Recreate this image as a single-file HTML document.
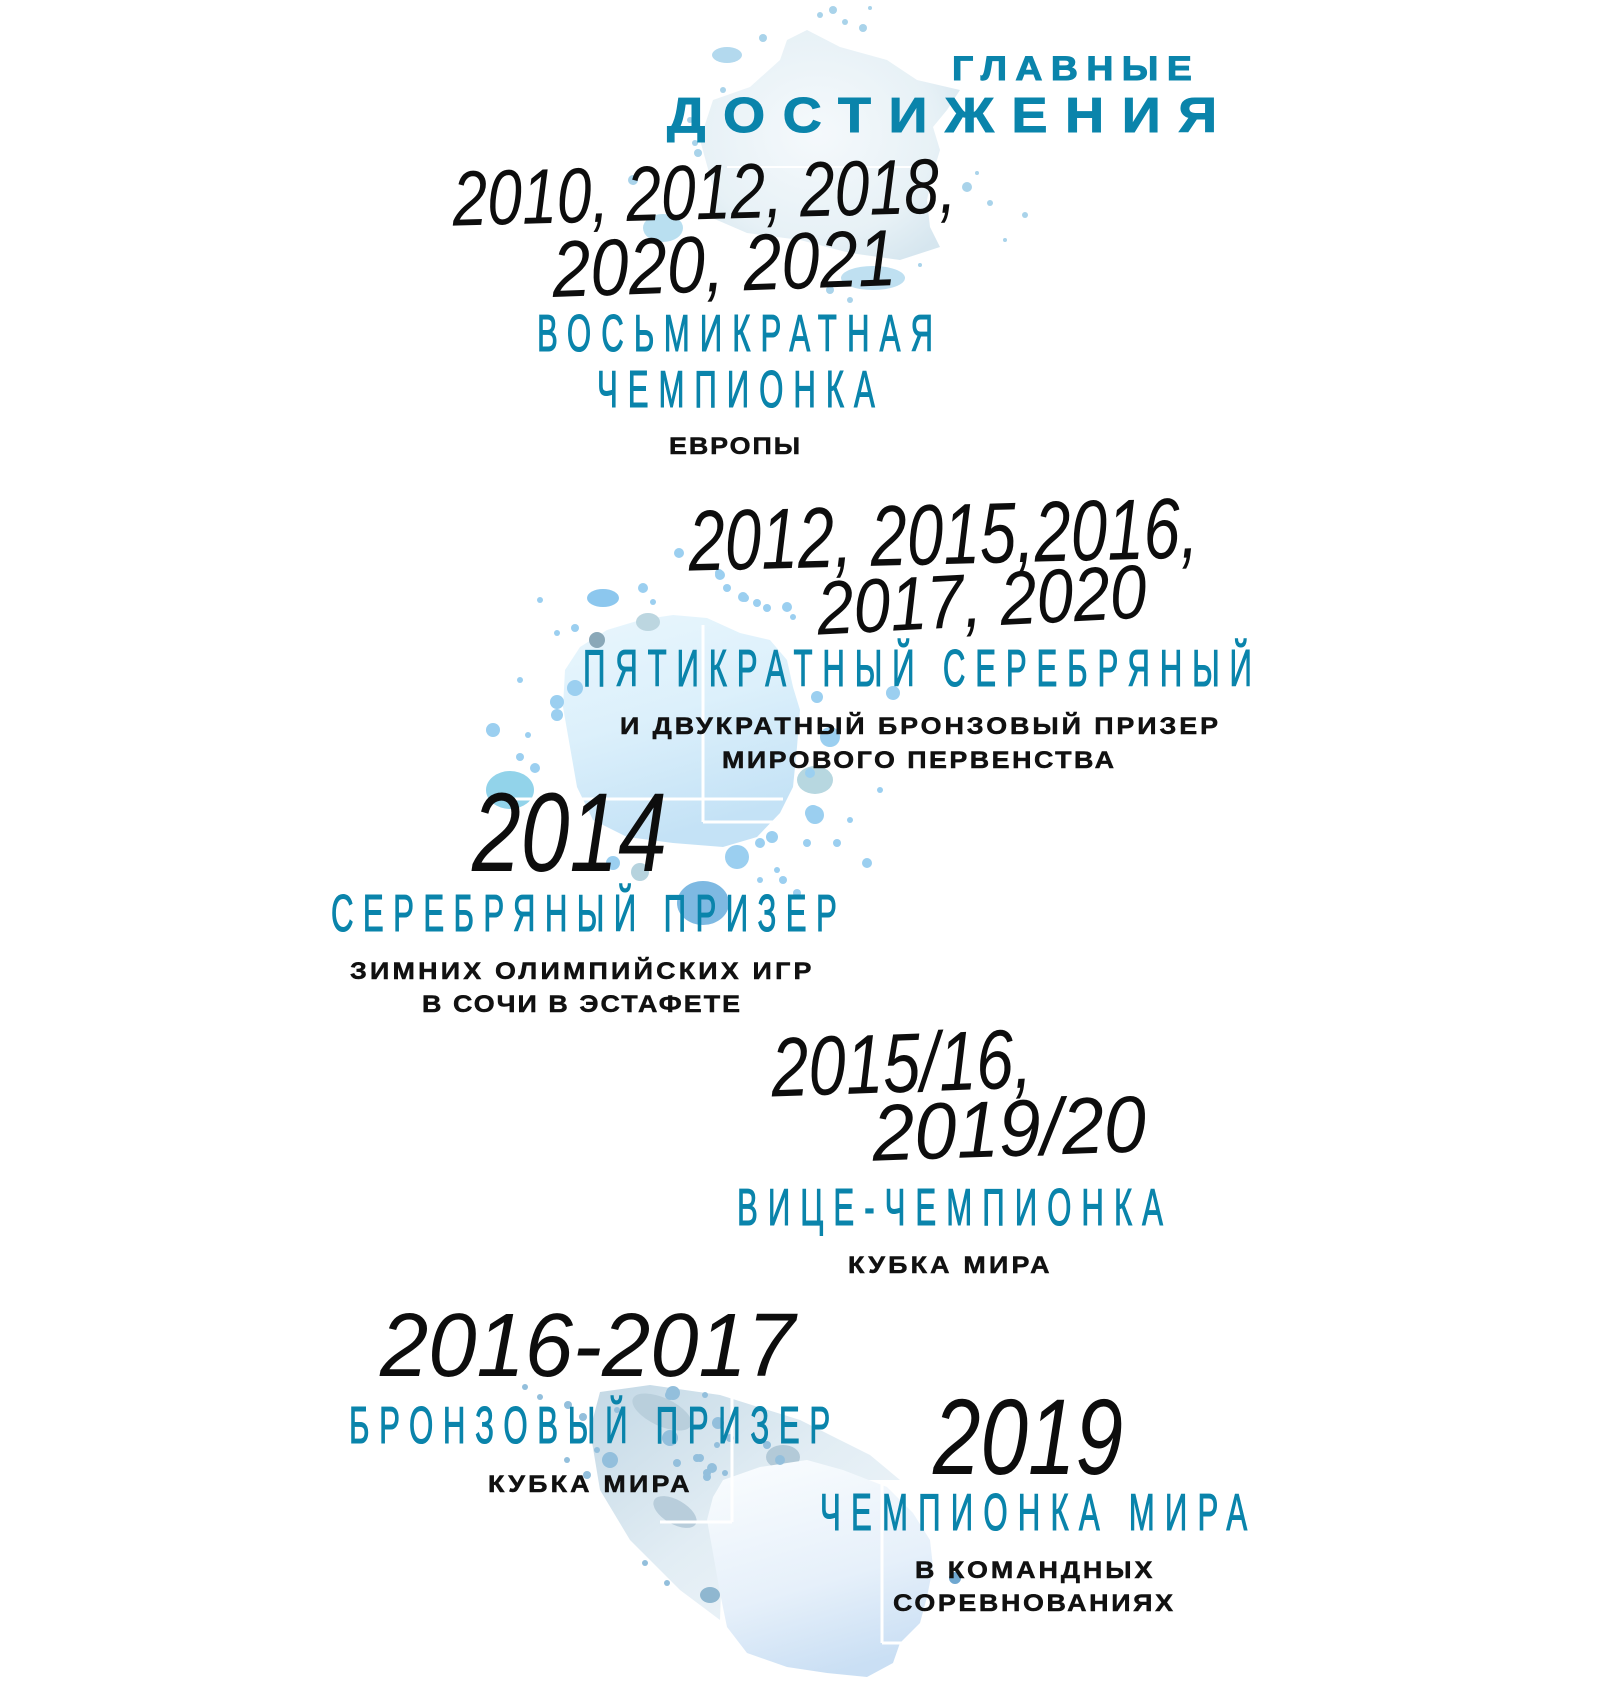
<!DOCTYPE html>
<html><head><meta charset="utf-8"><style>
html,body{margin:0;padding:0;background:#fff;}
body{width:1600px;height:1700px;overflow:hidden;}
svg{display:block;}
.ttl{font-family:"Liberation Sans","DejaVu Sans",sans-serif;font-weight:bold;fill:#0a84ab;stroke:#0a84ab;stroke-width:1;}
.hd{font-family:"Liberation Sans","DejaVu Sans",sans-serif;font-weight:normal;fill:#0a84ab;stroke:#0a84ab;stroke-width:1.1;}
.sb{font-family:"Liberation Sans","DejaVu Sans",sans-serif;font-weight:bold;fill:#111;stroke:#111;stroke-width:0.5;}
.hw{font-family:"Liberation Sans","DejaVu Sans",sans-serif;font-style:italic;font-weight:normal;fill:#0d0d0d;}
</style></head><body>
<svg width="1600" height="1700" viewBox="0 0 1600 1700" xmlns="http://www.w3.org/2000/svg">
<defs>
<radialGradient id="gTop" cx="0.45" cy="0.45" r="0.65">
<stop offset="0" stop-color="#f5f9fc"/><stop offset="0.7" stop-color="#e7f1f6"/><stop offset="1" stop-color="#d6e6ef"/>
</radialGradient>
<linearGradient id="gMid" x1="0" y1="0" x2="0.3" y2="1">
<stop offset="0" stop-color="#e9f6fd"/><stop offset="0.5" stop-color="#dcf0fb"/><stop offset="1" stop-color="#c4e2f6"/>
</linearGradient>
<linearGradient id="gBot" x1="0.2" y1="0" x2="0.5" y2="1">
<stop offset="0" stop-color="#f9fcfe"/><stop offset="0.6" stop-color="#e6f0fa"/><stop offset="1" stop-color="#cadff4"/>
</linearGradient>
<linearGradient id="gStreak" x1="0" y1="0" x2="1" y2="1">
<stop offset="0" stop-color="#c3d8e5"/><stop offset="0.5" stop-color="#e2edf4"/><stop offset="1" stop-color="#f2f7fb"/>
</linearGradient>
</defs>

<!-- TOP SPLASH -->
<g>
<polygon fill="url(#gTop)" points="787,40 807,30 840,47 887,60 917,80 960,90 947,110 933,127 940,150 933,173 927,200 930,227 940,247 900,260 850,253 800,240 747,233 710,217 713,187 700,140 713,100 750,87 780,60"/>
<ellipse cx="727" cy="55" rx="15" ry="8" fill="#b3d9ee"/>
<ellipse cx="663" cy="228" rx="20" ry="14" fill="#b9dff0"/>
<ellipse cx="873" cy="278" rx="32" ry="12" fill="#bfe0f1"/>
<g fill="#a9d3ea">
<circle cx="820" cy="15" r="3"/><circle cx="833" cy="10" r="4"/><circle cx="845" cy="22" r="3"/><circle cx="863" cy="28" r="4"/>
<circle cx="763" cy="38" r="4"/><circle cx="967" cy="187" r="5"/><circle cx="990" cy="203" r="3"/><circle cx="1025" cy="215" r="3"/>
<circle cx="977" cy="173" r="2"/><circle cx="633" cy="180" r="5"/><circle cx="698" cy="153" r="4"/><circle cx="695" cy="143" r="3"/>
<circle cx="723" cy="90" r="3"/><circle cx="690" cy="120" r="3"/><circle cx="830" cy="290" r="4"/><circle cx="850" cy="300" r="3"/>
<circle cx="920" cy="265" r="2"/><circle cx="1005" cy="240" r="2"/><circle cx="870" cy="8" r="2"/>
</g>
<line x1="727" y1="167" x2="920" y2="167" stroke="#fff" stroke-width="2"/>
</g>

<!-- MIDDLE SPLASH -->
<g>
<polygon fill="url(#gMid)" points="640,620 673,615 707,618 740,633 770,640 787,660 793,687 800,710 797,747 793,787 780,813 757,837 723,847 673,843 627,837 593,820 577,787 570,747 563,707 565,670 580,647 607,630"/>
<ellipse cx="603" cy="598" rx="16" ry="9" fill="#8cc7ee"/>
<ellipse cx="510" cy="790" rx="24" ry="19" fill="#92d3ea"/>
<ellipse cx="703" cy="903" rx="26" ry="22" fill="#7eb9e2"/>
<ellipse cx="648" cy="622" rx="12" ry="9" fill="#bcd6e0"/>
<ellipse cx="815" cy="780" rx="18" ry="14" fill="#b7d7e0"/>
<circle cx="597" cy="640" r="8" fill="#8aa8b8"/>
<g fill="#9bcff0">
<circle cx="643" cy="588" r="5"/><circle cx="653" cy="602" r="3"/><circle cx="720" cy="575" r="5"/><circle cx="727" cy="588" r="4"/>
<circle cx="743" cy="597" r="5"/><circle cx="757" cy="603" r="4"/><circle cx="767" cy="608" r="4"/><circle cx="787" cy="607" r="5"/>
<circle cx="793" cy="617" r="3"/><circle cx="575" cy="628" r="4"/><circle cx="557" cy="633" r="3"/><circle cx="575" cy="688" r="8"/>
<circle cx="557" cy="702" r="7"/><circle cx="557" cy="715" r="6"/><circle cx="493" cy="730" r="7"/><circle cx="528" cy="735" r="3"/>
<circle cx="520" cy="757" r="4"/><circle cx="535" cy="768" r="5"/><circle cx="817" cy="697" r="6"/><circle cx="893" cy="693" r="7"/>
<circle cx="813" cy="813" r="8"/><circle cx="837" cy="843" r="4"/><circle cx="807" cy="843" r="4"/><circle cx="867" cy="863" r="5"/>
<circle cx="830" cy="737" r="10"/><circle cx="810" cy="773" r="5"/><circle cx="760" cy="843" r="5"/><circle cx="737" cy="857" r="12"/>
<circle cx="613" cy="863" r="7"/><circle cx="783" cy="880" r="4"/><circle cx="777" cy="870" r="3"/><circle cx="797" cy="893" r="4"/>
<circle cx="772" cy="837" r="6"/><circle cx="815" cy="815" r="9"/><circle cx="679" cy="553" r="5"/><circle cx="719" cy="573" r="4"/>
<circle cx="745" cy="598" r="4"/><circle cx="540" cy="600" r="3"/><circle cx="520" cy="680" r="3"/><circle cx="760" cy="880" r="3"/>
<circle cx="850" cy="820" r="3"/><circle cx="880" cy="790" r="3"/><circle cx="640" cy="872" r="9" fill="#b6d3de"/>
</g>
<g stroke="#fff" stroke-width="3" fill="none">
<line x1="703" y1="625" x2="703" y2="822"/>
<line x1="490" y1="799" x2="783" y2="799"/>
<line x1="703" y1="822" x2="782" y2="822"/>
</g>
</g>

<!-- BOTTOM SPLASH -->
<g>
<polygon fill="url(#gStreak)" points="600,1392 650,1385 720,1395 800,1420 870,1455 900,1480 800,1480 740,1500 722,1560 720,1620 680,1590 630,1540 600,1490 590,1430"/>
<ellipse cx="662" cy="1412" rx="32" ry="14" transform="rotate(25 662 1412)" fill="#b9cfdc"/>
<ellipse cx="675" cy="1512" rx="24" ry="12" transform="rotate(30 675 1512)" fill="#b8cddb"/>
<ellipse cx="783" cy="1457" rx="17" ry="12" fill="#b3cad8"/>
<polygon fill="url(#gBot)" points="723,1480 760,1467 807,1460 843,1470 887,1487 913,1513 930,1540 933,1567 927,1597 920,1623 900,1643 893,1663 867,1677 827,1673 787,1667 747,1653 727,1627 720,1593 713,1553 707,1520 713,1497"/>
<g fill="#93bfdc">
<circle cx="670" cy="1395" r="5"/><circle cx="705" cy="1395" r="3"/><circle cx="613" cy="1462" r="4"/><circle cx="677" cy="1463" r="4"/>
<circle cx="700" cy="1458" r="4"/><circle cx="712" cy="1468" r="5"/><circle cx="707" cy="1477" r="4"/><circle cx="725" cy="1473" r="3"/>
<circle cx="717" cy="1423" r="4"/><circle cx="767" cy="1445" r="4"/><circle cx="780" cy="1460" r="5"/><circle cx="717" cy="1445" r="3"/>
<circle cx="645" cy="1563" r="3"/><circle cx="667" cy="1583" r="3"/><circle cx="567" cy="1460" r="3"/>
<circle cx="525" cy="1387" r="3"/><circle cx="540" cy="1397" r="3"/><circle cx="568" cy="1405" r="4"/><circle cx="583" cy="1417" r="4"/>
<circle cx="617" cy="1410" r="3"/><circle cx="610" cy="1460" r="8"/><circle cx="597" cy="1450" r="3"/><circle cx="587" cy="1475" r="4"/>
<circle cx="697" cy="1458" r="4"/><circle cx="707" cy="1473" r="4"/><circle cx="718" cy="1423" r="6"/><circle cx="673" cy="1393" r="7"/>
<circle cx="670" cy="1438" r="8"/><circle cx="730" cy="1438" r="4"/>
</g>
<ellipse cx="710" cy="1595" rx="10" ry="8" fill="#8fb7d0"/>
<circle cx="955" cy="1578" r="6" fill="#6fa7d0"/>
<g stroke="#fff" stroke-width="3" fill="none">
<line x1="732" y1="1390" x2="732" y2="1522"/>
<line x1="660" y1="1522" x2="732" y2="1522"/>
<line x1="882" y1="1480" x2="882" y2="1643"/>
<line x1="882" y1="1643" x2="903" y2="1643"/>
</g>
</g>

<!-- TITLE -->
<text class="ttl" font-size="34" transform="translate(952 80) scale(1.1 1)" x="0" y="0" textLength="218" lengthAdjust="spacing">ГЛАВНЫЕ</text>
<text class="ttl" font-size="49" transform="translate(667 132) scale(1.1 1)" x="0" y="0" textLength="500" lengthAdjust="spacing">ДОСТИЖЕНИЯ</text>

<!-- HANDWRITTEN YEARS -->
<text class="hw" x="453" y="219" font-size="78" textLength="504" lengthAdjust="spacingAndGlyphs" transform="rotate(-1.5 705 219)">2010, 2012, 2018,</text>
<text class="hw" x="553" y="291" font-size="80" textLength="344" lengthAdjust="spacingAndGlyphs" transform="rotate(-2 725 291)">2020, 2021</text>
<text class="hw" x="689" y="564" font-size="86" textLength="510" lengthAdjust="spacingAndGlyphs" transform="rotate(-1.5 944 564)">2012, 2015,2016,</text>
<text class="hw" x="818" y="626" font-size="76" textLength="330" lengthAdjust="spacingAndGlyphs" transform="rotate(-3 983 626)">2017, 2020</text>
<text class="hw" x="472" y="871" font-size="112" textLength="195" lengthAdjust="spacingAndGlyphs">2014</text>
<text class="hw" x="772" y="1092" font-size="84" textLength="261" lengthAdjust="spacingAndGlyphs" transform="rotate(-2 900 1092)">2015/16,</text>
<text class="hw" x="873" y="1156" font-size="80" textLength="274" lengthAdjust="spacingAndGlyphs" transform="rotate(-2 1010 1156)">2019/20</text>
<text class="hw" x="380" y="1376" font-size="90" textLength="415" lengthAdjust="spacingAndGlyphs">2016-2017</text>
<text class="hw" x="933" y="1474" font-size="108" textLength="190" lengthAdjust="spacingAndGlyphs">2019</text>

<!-- CONDENSED HEADINGS -->
<text class="hd" font-size="52" transform="translate(537 351) scale(0.6 1)" x="0" y="0" textLength="660" lengthAdjust="spacing">ВОСЬМИКРАТНАЯ</text>
<text class="hd" font-size="52" transform="translate(597 407) scale(0.6 1)" x="0" y="0" textLength="463" lengthAdjust="spacing">ЧЕМПИОНКА</text>
<text class="hd" font-size="52" transform="translate(583 686) scale(0.6 1)" x="0" y="0" textLength="1115" lengthAdjust="spacing">ПЯТИКРАТНЫЙ СЕРЕБРЯНЫЙ</text>
<text class="hd" font-size="52" transform="translate(331 931) scale(0.6 1)" x="0" y="0" textLength="843" lengthAdjust="spacing">СЕРЕБРЯНЫЙ ПРИЗЕР</text>
<text class="hd" font-size="52" transform="translate(737 1225) scale(0.6 1)" x="0" y="0" textLength="710" lengthAdjust="spacing">ВИЦЕ-ЧЕМПИОНКА</text>
<text class="hd" font-size="52" transform="translate(349 1443) scale(0.6 1)" x="0" y="0" textLength="802" lengthAdjust="spacing">БРОНЗОВЫЙ ПРИЗЕР</text>
<text class="hd" font-size="52" transform="translate(820 1530) scale(0.6 1)" x="0" y="0" textLength="712" lengthAdjust="spacing">ЧЕМПИОНКА МИРА</text>

<!-- SUBTITLES -->
<text class="sb" font-size="24" transform="translate(669 454) scale(1.12 1)" x="0" y="0" textLength="117" lengthAdjust="spacing">ЕВРОПЫ</text>
<text class="sb" font-size="24" transform="translate(620 734) scale(1.12 1)" x="0" y="0" textLength="534" lengthAdjust="spacing">И ДВУКРАТНЫЙ БРОНЗОВЫЙ ПРИЗЕР</text>
<text class="sb" font-size="24" transform="translate(722 768) scale(1.12 1)" x="0" y="0" textLength="350" lengthAdjust="spacing">МИРОВОГО ПЕРВЕНСТВА</text>
<text class="sb" font-size="24" transform="translate(350 979) scale(1.12 1)" x="0" y="0" textLength="412" lengthAdjust="spacing">ЗИМНИХ ОЛИМПИЙСКИХ ИГР</text>
<text class="sb" font-size="24" transform="translate(422 1012) scale(1.12 1)" x="0" y="0" textLength="284" lengthAdjust="spacing">В СОЧИ В ЭСТАФЕТЕ</text>
<text class="sb" font-size="24" transform="translate(848 1273) scale(1.12 1)" x="0" y="0" textLength="180" lengthAdjust="spacing">КУБКА МИРА</text>
<text class="sb" font-size="24" transform="translate(488 1492) scale(1.12 1)" x="0" y="0" textLength="180" lengthAdjust="spacing">КУБКА МИРА</text>
<text class="sb" font-size="24" transform="translate(915 1578) scale(1.12 1)" x="0" y="0" textLength="212" lengthAdjust="spacing">В КОМАНДНЫХ</text>
<text class="sb" font-size="24" transform="translate(893 1611) scale(1.12 1)" x="0" y="0" textLength="250" lengthAdjust="spacing">СОРЕВНОВАНИЯХ</text>
</svg>
</body></html>
